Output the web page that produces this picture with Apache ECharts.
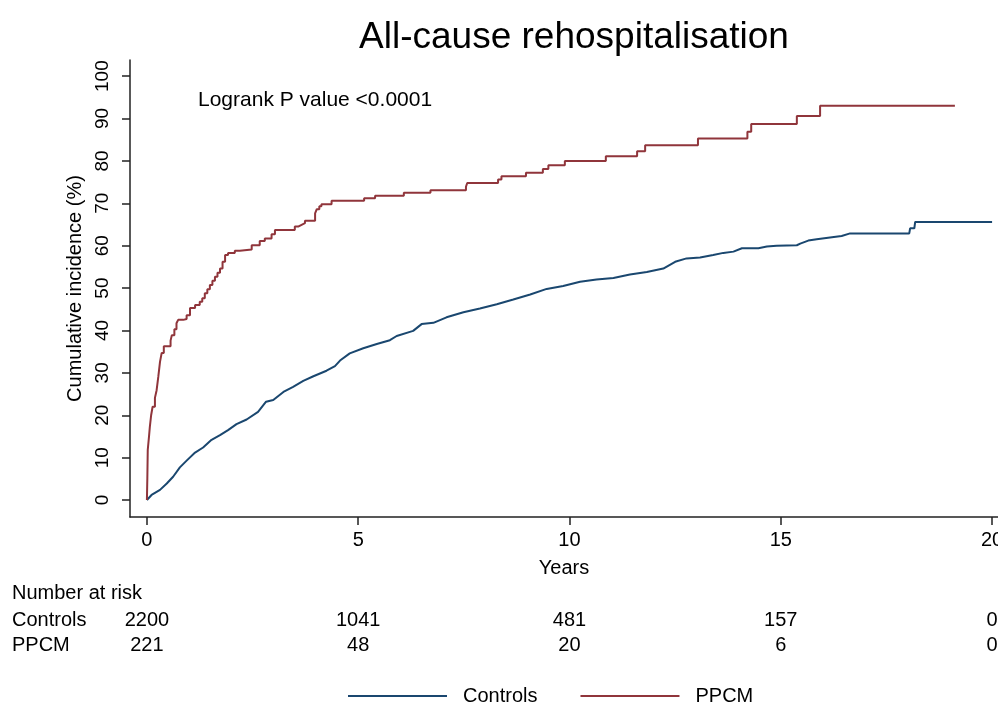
<!DOCTYPE html>
<html>
<head>
<meta charset="utf-8">
<script src="https://cdn.jsdelivr.net/npm/echarts@6/dist/echarts.min.js"></script>
<style>html,body{margin:0;padding:0;background:#fff}#c{width:998px;height:704px}</style>
</head>
<body>
<div id="c"></div>
<script>
// ---- data ----
const titleText = 'All-cause rehospitalisation';
const annotation = 'Logrank P value <0.0001';
const xTicks = [0, 5, 10, 15, 20];
const yTicks = [0, 10, 20, 30, 40, 50, 60, 70, 80, 90, 100];
const seriesNames = ['Controls', 'PPCM'];
const riskTimes = [0, 5, 10, 15, 20];
const riskControls = [2200, 1041, 481, 157, 0];
const riskPPCM = [221, 48, 20, 6, 0];

const controlsTime = [0,0.11,0.31,0.47,0.62,0.78,0.94,1.14,1.33,1.53,1.73,1.92,2.12,2.36,2.63,2.82,2.99,3.23,3.46,3.70,3.94,4.25,4.45,4.57,4.80,5.12,5.44,5.75,5.91,6.30,6.50,6.78,7.09,7.49,7.88,8.28,8.67,9.07,9.46,9.85,10.25,10.64,11.04,11.43,11.83,12.22,12.50,12.77,13.09,13.40,13.64,13.88,14.08,14.47,14.67,14.90,15.38,15.46,15.65,15.85,16.21,16.44,16.64,18.04,18.06,18.16,18.18,20.0];
const controlsInc = [0,1.2,2.4,3.9,5.5,7.7,9.3,11.2,12.4,14.2,15.3,16.5,17.9,19.0,20.8,23.2,23.6,25.5,26.7,28.1,29.2,30.5,31.6,32.9,34.6,35.8,36.8,37.7,38.7,39.9,41.5,41.8,43.1,44.3,45.2,46.2,47.3,48.5,49.8,50.5,51.5,52.0,52.4,53.2,53.8,54.6,56.2,57.0,57.2,57.8,58.3,58.6,59.4,59.4,59.8,60.0,60.1,60.5,61.2,61.5,62.0,62.3,62.9,62.9,64.1,64.1,65.6,65.6];

const ppcmTime = [0,0.01,0.02,0.05,0.07,0.10,0.135,0.19,0.23,0.27,0.31,0.35,0.40,0.56,0.59,0.65,0.70,0.74,0.86,0.94,1.02,1.14,1.25,1.31,1.37,1.43,1.49,1.55,1.61,1.67,1.73,1.79,1.85,1.92,2.08,2.20,2.48,2.67,2.79,2.95,3.03,3.50,3.58,3.66,3.74,3.98,4.02,4.08,4.13,4.37,5.14,5.40,6.08,6.71,7.55,7.58,8.31,8.39,8.97,9.37,9.50,9.89,10.86,11.60,11.79,13.04,14.21,14.30,15.38,15.93,19.12];
const ppcmInc = [0,5,11.8,15,17.3,20,22.0,24.1,25.9,29.1,32.6,34.7,36.3,37.6,38.9,40.3,41.7,42.5,42.7,43.6,45.3,46.0,46.8,47.6,48.8,49.7,50.7,51.7,52.7,53.6,54.6,56.2,57.8,58.3,58.8,59.1,60.1,61.1,61.7,62.7,63.7,64.5,64.9,65.3,65.9,67.6,68.6,69.3,69.8,70.6,71.2,71.8,72.5,73.1,73.9,74.8,75.6,76.4,77.2,78.1,79.0,80.0,81.1,82.3,83.7,85.3,86.9,88.7,90.6,93.0,93.0];

// ---- chart ----
const FONT = 'Liberation Sans, Arial, Helvetica, sans-serif';
const navy = '#1a476f', maroon = '#90353b';
const chart = echarts.init(document.getElementById('c'), null, {renderer: 'canvas'});
const zip = (a, b) => a.map((v, i) => [v, b[i]]);

const option = {
  animation: false,
  backgroundColor: '#fff',
  title: {
    text: titleText, left: 569, top: 14, textAlign: 'center',
    textStyle: {fontFamily: FONT, fontSize: 37, fontWeight: 'normal', color: '#000'}
  },
  grid: {left: 130, right: 0, top: 60, bottom: 187, containLabel: false, outerBoundsMode: 'none'},
  xAxis: {
    type: 'value', min: -0.4, max: 20.14,
    name: 'Years', nameLocation: 'middle', nameGap: 41,
    nameTextStyle: {fontFamily: FONT, fontSize: 20, color: '#000'},
    axisLine: {show: true, onZero: false, lineStyle: {color: '#222', width: 1.5}},
    axisTick: {show: true, customValues: xTicks, length: 8, lineStyle: {color: '#222', width: 1.5}},
    axisLabel: {customValues: xTicks, fontFamily: FONT, fontSize: 20, color: '#000', margin: 13},
    splitLine: {show: false}
  },
  yAxis: {
    type: 'value', min: -4, max: 103.8,
    name: 'Cumulative incidence (%)', nameLocation: 'middle', nameGap: 43, nameRotate: 90,
    nameTextStyle: {fontFamily: FONT, fontSize: 20, color: '#000'},
    axisLine: {show: true, onZero: false, lineStyle: {color: '#222', width: 1.5}},
    axisTick: {show: true, customValues: yTicks, length: 8, lineStyle: {color: '#222', width: 1.5}},
    axisLabel: {customValues: yTicks, rotate: 90, fontFamily: FONT, fontSize: 19, color: '#000', margin: 18},
    splitLine: {show: false}
  },
  legend: {
    data: seriesNames, left: 343, top: 681, icon: 'rect', itemWidth: 99, itemHeight: 2, itemGap: 43,
    textStyle: {fontFamily: FONT, fontSize: 20, color: '#000', padding: [0, 0, 0, 11]}
  },
  series: [
    {name: seriesNames[0], type: 'line', data: zip(controlsTime, controlsInc), showSymbol: false,
     symbol: 'none', lineStyle: {color: navy, width: 2}, itemStyle: {color: navy}},
    {name: seriesNames[1], type: 'line', step: 'end', data: zip(ppcmTime, ppcmInc), showSymbol: false,
     symbol: 'none', lineStyle: {color: maroon, width: 2}, itemStyle: {color: maroon}}
  ],
  graphic: []
};
chart.setOption(option);

// annotation and number-at-risk table positioned from the x axis scale
const txt = (x, y, s, align, size) => ({type: 'text', x: x, y: y,
  style: {text: s, font: (size || 20) + 'px ' + FONT, fill: '#000', align: align || 'left', verticalAlign: 'middle'}});
const g = [];
g.push(txt(198, 100, annotation, 'left', 21));
g.push(txt(12, 593, 'Number at risk'));
g.push(txt(12, 620, seriesNames[0]));
g.push(txt(12, 645, seriesNames[1]));
riskTimes.forEach((t, i) => {
  const px = chart.convertToPixel({xAxisIndex: 0}, t);
  g.push(txt(px, 620, String(riskControls[i]), 'center'));
  g.push(txt(px, 645, String(riskPPCM[i]), 'center'));
});
chart.setOption({graphic: g});
</script>
</body>
</html>
